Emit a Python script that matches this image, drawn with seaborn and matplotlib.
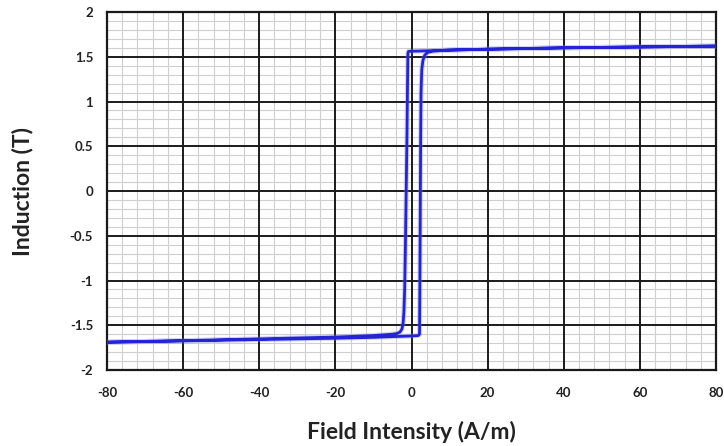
import matplotlib
matplotlib.use("Agg")
import matplotlib.pyplot as plt
from matplotlib.ticker import MultipleLocator
import numpy as np
import pandas as pd
import seaborn as sns

# Descending branch: positive saturation down to negative saturation
h_down = [80, 60, 40, 20, 10, 5, 2, 0, -0.8, -0.95, -1.05, -1.2, -1.4, -1.6, -1.8, -2.0, -2.2,
          -2.5, -3.0, -3.8, -5, -10, -20, -40, -60, -80]
b_down = [1.62, 1.61, 1.60, 1.585, 1.575, 1.568, 1.564, 1.562, 1.56, 1.54, 1.2, 0.6, 0.0, -0.6,
          -1.1, -1.35, -1.47, -1.54, -1.575, -1.592, -1.60, -1.615, -1.632, -1.652, -1.672, -1.688]

# Ascending branch: negative saturation back up to positive saturation
h_up = [-80, -60, -40, -20, -10, -5, 0, 1.8, 2.1, 2.2, 2.3, 2.4, 2.5, 2.7, 3.0, 3.5, 4.2, 5.5,
        8, 10, 20, 40, 60, 80]
b_up = [-1.69, -1.675, -1.66, -1.645, -1.635, -1.627, -1.62, -1.615, -1.6, -1.0, -0.2, 0.6,
        1.1, 1.36, 1.46, 1.52, 1.548, 1.562, 1.57, 1.575, 1.585, 1.60, 1.61, 1.62]

x_ticks = [-80, -60, -40, -20, 0, 20, 40, 60, 80]
y_ticks = [-2, -1.5, -1, -0.5, 0, 0.5, 1, 1.5, 2]

loop = pd.DataFrame({
    "H": h_down + h_up,
    "B": b_down + b_up,
})
loop["step"] = np.arange(len(loop))

sns.set_theme(style="white")
plt.rcParams["font.family"] = ["Lato", "DejaVu Sans"]

fig = plt.figure(figsize=(7.24, 4.46), dpi=100)
rect = [0.1478, 0.1704, 0.8412, 0.8026]

# fine graph-paper grid on its own axes, underneath everything
ax_bg = fig.add_axes(rect, zorder=0)
ax_bg.set_xlim(-80, 80)
ax_bg.set_ylim(-2, 2)
ax_bg.xaxis.set_minor_locator(MultipleLocator(4))
ax_bg.yaxis.set_minor_locator(MultipleLocator(0.1))
ax_bg.grid(which="minor", color="#cfcfcf", linewidth=0.8)
ax_bg.tick_params(which="both", length=0, labelbottom=False, labelleft=False)
for s in ax_bg.spines.values():
    s.set_visible(False)

ax = fig.add_axes(rect, zorder=1)
ax.patch.set_alpha(0)

# soft halo under the curve, then the curve itself
sns.lineplot(data=loop, x="H", y="B", sort=False, estimator=None, ax=ax,
             color="#8080f0", linewidth=3.6, alpha=0.35, zorder=4)
sns.lineplot(data=loop, x="H", y="B", sort=False, estimator=None, ax=ax,
             color="#2424d6", linewidth=2.0, zorder=5)

ax.set_xlim(-80, 80)
ax.set_ylim(-2, 2)
ax.set_xticks(x_ticks)
ax.set_yticks(y_ticks)
ax.set_xticklabels([f"{v:g}" for v in x_ticks])
ax.set_yticklabels([f"{v:g}" for v in y_ticks])
ax.grid(which="major", color="#1a1a1a", linewidth=1.4)
ax.set_axisbelow(True)
for s in ax.spines.values():
    s.set_color("#1a1a1a")
    s.set_linewidth(1.6)

ax.tick_params(which="both", length=0)
ax.tick_params(axis="x", pad=12, labelsize=9.5)
ax.tick_params(axis="y", pad=10, labelsize=9.5)
for lab in ax.get_xticklabels() + ax.get_yticklabels():
    lab.set_fontweight("bold")
    lab.set_color("#222222")

ax.set_xlabel("Field Intensity (A/m)", fontsize=16.5, fontweight="bold",
              color="#222222", labelpad=16)
ax.set_ylabel("Induction (T)", fontsize=16.5, fontweight="bold",
              color="#222222", labelpad=26)

fig.savefig("out.png", dpi=100)
